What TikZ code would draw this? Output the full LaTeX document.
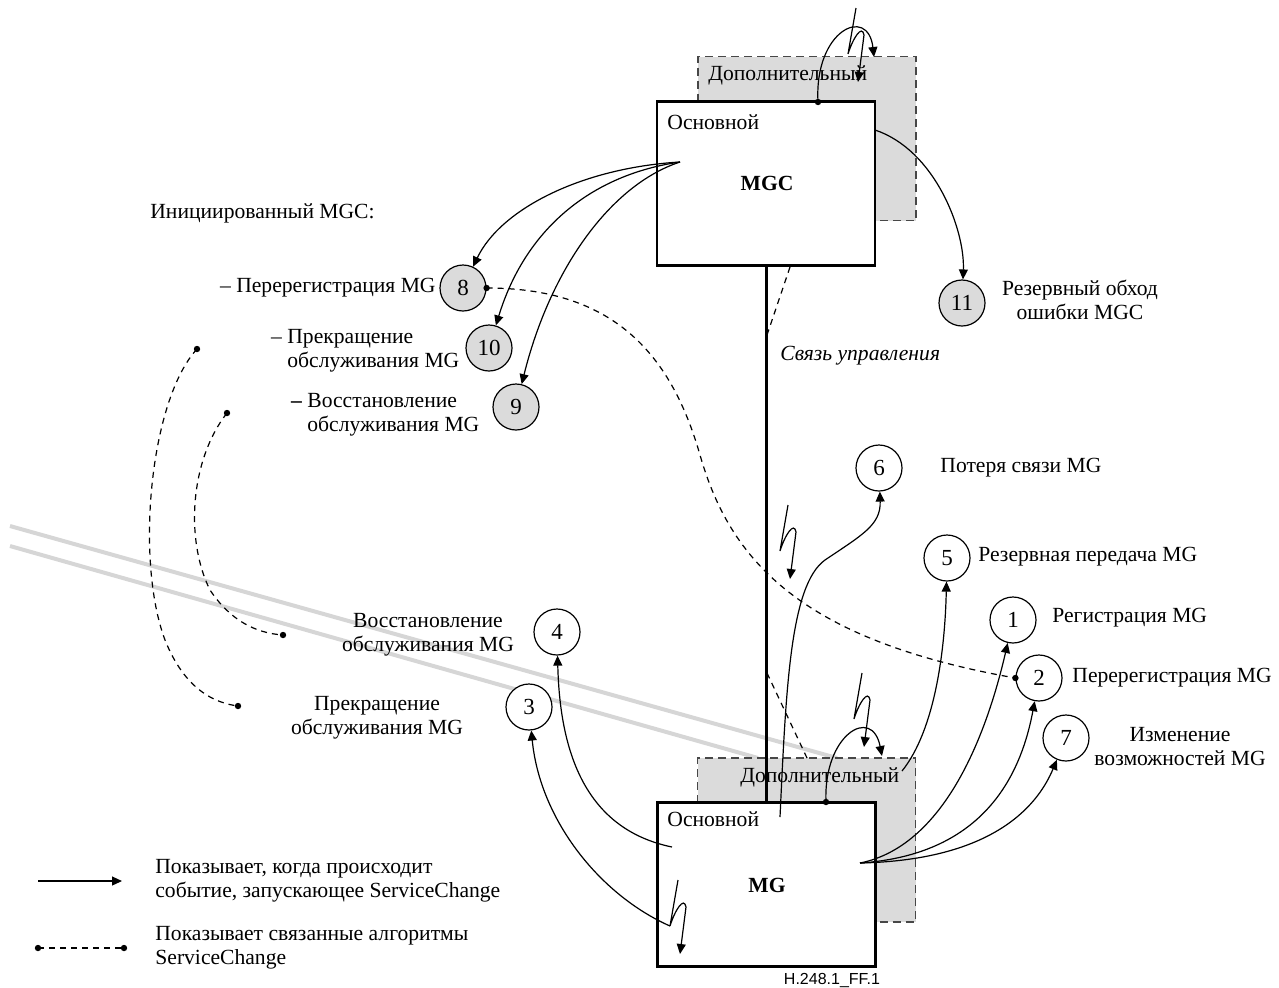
\documentclass[tikz,border=0pt]{standalone}
\usepackage{fontspec}
\setmainfont{Liberation Serif}
\newfontfamily\figsans{Liberation Sans}
\usetikzlibrary{arrows.meta,calc}

\definecolor{shade}{gray}{0.86}
\definecolor{railgray}{gray}{0.84}
\definecolor{edgegray}{gray}{0.28}

\newcommand\txtsize{\fontsize{10.8}{12}\selectfont}

\tikzset{
  lbl/.style={font=\txtsize, inner sep=0pt, text height=0.7em, text depth=0.22em},
  lbl2/.style={font=\txtsize, inner sep=0pt},
  unitbox/.style={draw=black, line width=1.2pt, fill=white, minimum width=109pt, minimum height=82pt, inner sep=0pt},
  sparebox/.style={draw=edgegray, dash pattern=on 4pt off 2.5pt, line width=0.8pt, fill=shade, minimum width=109pt, minimum height=82pt, inner sep=0pt},
  evt/.style={circle, draw, line width=0.6pt, minimum size=23pt, inner sep=0pt, fill=white, font=\fontsize{11.5}{12}\selectfont},
  mgcevt/.style={evt, fill=shade},
  trig/.style={line width=0.6pt, -{Triangle[length=5pt,width=4.5pt]}},
  rel/.style={line width=0.6pt, dash pattern=on 3pt off 2.5pt},
  dotend/.style={circle, fill, inner sep=0pt, minimum size=3.2pt},
  rail/.style={draw=railgray, line width=2pt},
  link/.style={line width=1.5pt},
  bolt/.pic={
    \coordinate (-v) at (-8,46);
    \draw[trig] (0,0) -- (-8,46) .. controls (-3,30) and (6,16) .. (8,27) -- (2,74);
  }
}

\begin{document}
\begin{tikzpicture}[x=0.5pt,y=-0.5pt]
\useasboundingbox (0,0) rectangle (1279,987);

% grey guide rails
\coordinate (ra1) at (10,526);
\coordinate (ra2) at (837,758);
\coordinate (rb1) at (10,546);
\coordinate (rb2) at (758,758);
\draw[rail] (ra1) -- (ra2);
\draw[rail] (rb1) -- (rb2);

% MGC: spare and main units
\node[sparebox] (mgcspare) at (807,138.5) {};
\node[unitbox] (mgc) at (766,183.5) {};
\node[lbl, anchor=west] (mgcsparelbl) at (708,76) {Дополнительный};
\node[lbl, anchor=west] (mgcmainlbl) at (667,125) {Основной};
\node[lbl, anchor=center, font=\txtsize\bfseries] (mgclbl) at (767,186) {MGC};

% MG: spare and main units
\node[sparebox] (mgspare) at (806.5,840) {};
\node[unitbox] (mg) at (766.5,884.5) {};
\node[lbl, anchor=west] (mgsparelbl) at (740,778) {Дополнительный};
\node[lbl, anchor=west] (mgmainlbl) at (667,822) {Основной};
\node[lbl, anchor=center, font=\txtsize\bfseries] (mglbl) at (767,888) {MG};

% control association
\draw[link] (mgc.south) -- (mgc.south |- mg.north);
\node[lbl, anchor=west, font=\txtsize\itshape] (linklbl) at (780,356) {Связь управления};

% backup association to the spare units
\coordinate (dA) at (790,267);
\coordinate (dB) at (767,335);
\coordinate (dC) at (767,673);
\coordinate (dD) at (807,758);
\draw[rel] (dA) -- (dB);
\draw[rel] (dC) -- (dD);

% event circles
\node[evt] (c1) at (1013,620) {1};
\node[evt] (c2) at (1039,678) {2};
\node[evt] (c3) at (529,707) {3};
\node[evt] (c4) at (557,632) {4};
\node[evt] (c5) at (947,558) {5};
\node[evt] (c6) at (879,468) {6};
\node[evt] (c7) at (1066,738) {7};
\node[mgcevt] (c8) at (463,288) {8};
\node[mgcevt] (c9) at (516,407) {9};
\node[mgcevt] (c10) at (489,348) {10};
\node[mgcevt] (c11) at (962,303) {11};

% MGC initiated events
\coordinate (fan) at (680,162);
\draw[trig] (fan) .. controls (580,168) and (500,210) .. (c8);
\draw[trig] (fan) .. controls (590,175) and (525,230) .. (c10);
\draw[trig] (fan) .. controls (610,185) and (550,270) .. (c9);

\coordinate (r11) at (875,130);
\draw[trig] (r11) .. controls (935,150) and (965,230) .. (c11);

% MGC failover to spare
\node[dotend] (dtop) at (818,102) {};
\coordinate (loopA) at (874,57);
\draw[trig] (dtop.center) .. controls (814,30) and (868,5) .. (loopA);
\pic (bA) at (856,8) {bolt};

% MG events
\pic (bB) at (788,505) {bolt};
\coordinate (s6) at (780,817);
\draw[trig] (s6) .. controls (786,690) and (790,585) .. (825,560) .. controls (862,535) and (881,525) .. (c6);

\coordinate (s5) at (902,771);
\draw[trig] (s5) .. controls (935,730) and (945,650) .. (c5);

\coordinate (fanmg) at (860,863);
\draw[trig] (fanmg) .. controls (950,845) and (990,720) .. (c1);
\draw[trig] (fanmg) .. controls (980,855) and (1020,780) .. (c2);
\draw[trig] (fanmg) .. controls (1000,860) and (1040,800) .. (c7);

\node[dotend] (dmg) at (826,802) {};
\coordinate (loopB) at (882,756);
\draw[trig] (dmg.center) .. controls (823,735) and (872,705) .. (loopB);
\pic (bC) at (862,673) {bolt};

\pic (bD) at (678,880) {bolt};
\coordinate (s4) at (672,847);
\draw[trig] (s4) .. controls (590,830) and (560,760) .. (c4);
\draw[trig] (bD-v) .. controls (600,895) and (540,820) .. (c3);

% related algorithms
\node[dotend] (p8) at (c8.east) {};
\node[dotend] (p2) at (c2.west) {};
\draw[rel] (p8.center) .. controls (610,288) and (670,350) .. (700,455) .. controls (730,560) and (800,640) .. (p2.center);

\node[dotend] (qa1) at (197,349) {};
\node[dotend] (qa2) at (238,706) {};
\draw[rel] (qa1.center) .. controls (150,400) and (135,560) .. (165,640) .. controls (185,690) and (215,703) .. (qa2.center);
\node[dotend] (qb1) at (227,413) {};
\node[dotend] (qb2) at (283,635) {};
\draw[rel] (qb1.center) .. controls (190,460) and (185,540) .. (210,590) .. controls (230,620) and (255,633) .. (qb2.center);

% event labels
\node[lbl, anchor=west] (tinit) at (150,214) {Инициированный MGC:};
\node[lbl, anchor=east] (t8) at (436,288) {– Перерегистрация MG};
\node[lbl2, anchor=west, align=left] (t10) at (287,351) {\llap{– }Прекращение\\обслуживания MG};
\node[lbl2, anchor=west, align=left] (t9) at (307,415) {\llap{\textbf{–} }Восстановление\\обслуживания MG};
\node[lbl2, align=center] (t4) at (428,635) {Восстановление\\обслуживания MG};
\node[lbl2, align=center] (t3) at (377,718) {Прекращение\\обслуживания MG};
\node[lbl2, align=center] (t11) at (1080,300) {Резервный обход\\ошибки MGC};
\node[lbl, anchor=west] (t6) at (940,468) {Потеря связи MG};
\node[lbl, anchor=west] (t5) at (978,557) {Резервная передача MG};
\node[lbl, anchor=west] (t1) at (1052,618) {Регистрация MG};
\node[lbl, anchor=west] (t2) at (1072,678) {Перерегистрация MG};
\node[lbl2, align=center] (t7) at (1180,747) {Изменение\\возможностей MG};

% legend
\coordinate (la1) at (38,881);
\coordinate (la2) at (122,881);
\draw[trig] (la1) -- (la2);
\node[lbl2, anchor=west, align=left] (lgA) at (155,881) {Показывает, когда происходит\\событие, запускающее ServiceChange};
\node[dotend] (lb1) at (38,948) {};
\node[dotend] (lb2) at (124,948) {};
\draw[rel] (lb1.center) -- (lb2.center);
\node[lbl2, anchor=west, align=left] (lgB) at (155,948) {Показывает связанные алгоритмы\\ServiceChange};

\node[inner sep=0pt, font=\figsans\fontsize{8}{9}\selectfont] (fig) at (832,980) {H.248.1\_FF.1};
\end{tikzpicture}
\end{document}
